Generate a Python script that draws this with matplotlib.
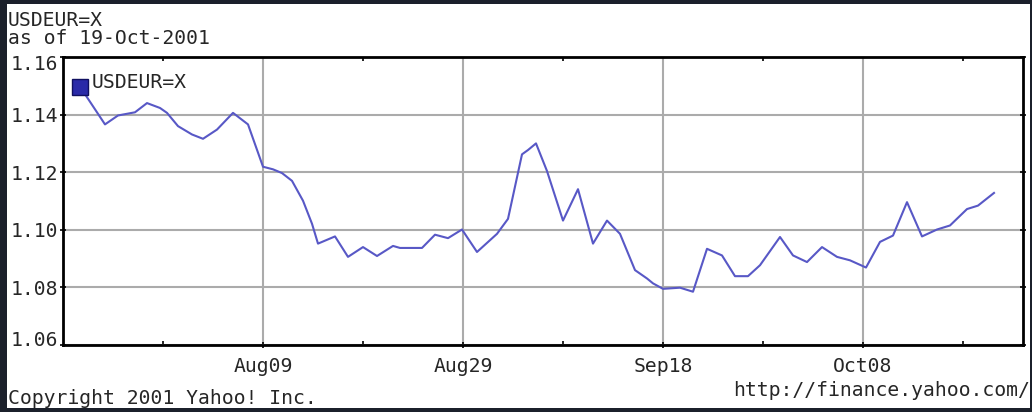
import matplotlib
matplotlib.use("Agg")
import matplotlib.pyplot as plt
from matplotlib.patches import Rectangle
from matplotlib.transforms import ScaledTranslation

# Days since 20-Jul-2001 (trading-day samples) and USD/EUR rate
days = [1.7, 4.2, 5.5, 7.2, 8.4, 9.7, 10.4, 11.5, 12.9, 14.0, 15.4, 17.0, 18.5,
        20.0, 21.0, 21.9, 22.9, 24.0, 24.9, 25.5, 27.2, 28.5, 30.0, 31.4, 33.0,
        33.7, 34.8, 35.9, 37.2, 38.5, 39.9, 41.4, 43.4, 44.5, 45.9, 46.5, 47.3,
        48.4, 50.0, 51.5, 53.0, 54.4, 55.7, 57.2, 58.4, 59.0, 60.0, 61.7, 63.0,
        64.4, 65.9, 67.2, 68.5, 69.7, 71.7, 73.0, 74.4, 75.9, 77.4, 78.7, 80.3,
        81.7, 83.0, 84.4, 85.9, 87.4, 88.7, 90.4, 91.5, 93.1]
rate = [1.1497, 1.1366, 1.1397, 1.1408, 1.1440, 1.1423, 1.1406, 1.1360, 1.1331,
        1.1316, 1.1348, 1.1406, 1.1366, 1.1219, 1.1210, 1.1197, 1.1170, 1.1101,
        1.1021, 1.0952, 1.0977, 1.0906, 1.0940, 1.0909, 1.0944, 1.0937, 1.0937,
        1.0937, 1.0983, 1.0971, 1.1001, 1.0923, 1.0986, 1.1038, 1.1262, 1.1277,
        1.1300, 1.1204, 1.1032, 1.1141, 1.0952, 1.1032, 1.0986, 1.0860, 1.0831,
        1.0814, 1.0795, 1.0799, 1.0785, 1.0934, 1.0911, 1.0839, 1.0839, 1.0877,
        1.0975, 1.0911, 1.0888, 1.0940, 1.0906, 1.0894, 1.0869, 1.0958, 1.0980,
        1.1096, 1.0977, 1.1001, 1.1015, 1.1072, 1.1084, 1.1128]

xtick_pos = [20, 40, 60, 80]
xtick_labels = ["Aug09", "Aug29", "Sep18", "Oct08"]
xminor_pos = [10, 30, 50, 70, 90]
ytick_vals = [1.06, 1.08, 1.10, 1.12, 1.14, 1.16]
ytick_labels = ["1.06", "1.08", "1.10", "1.12", "1.14", "1.16"]

W, H = 1032, 412
fig = plt.figure(figsize=(W / 100, H / 100), dpi=100)
fig.patch.set_facecolor("#1b202b")
fig.patches.append(Rectangle((7 / W, 4 / H), (1030 - 7) / W, (404) / H,
                             transform=fig.transFigure, facecolor="white",
                             edgecolor="none", zorder=-5))

mono = "DejaVu Sans Mono"
fs = 14.2
tc = "#262626"

ax = fig.add_axes([63 / W, 67 / H, 960 / W, 288 / H])
ax.set_zorder(5)
ax.set_facecolor("white")
ax.plot(days, rate, color="#5858c6", lw=1.5, zorder=3)
ax.set_xlim(0, 96)
ax.set_ylim(1.06, 1.16)

ax.set_xticks(xtick_pos)
ax.set_xticklabels(xtick_labels, fontfamily=mono, fontsize=fs, color=tc)
ax.set_xticks(xminor_pos, minor=True)
ax.set_yticks(ytick_vals)
ax.set_yticklabels(ytick_labels, fontfamily=mono, fontsize=fs, color=tc)

ax.grid(True, which="major", color="#ababab", lw=1.5, zorder=1)
ax.tick_params(axis="both", which="major", direction="inout", length=5,
               width=1.2, color="black", pad=1)
ax.tick_params(axis="x", which="major", pad=6)
ax.tick_params(axis="x", which="minor", direction="in", length=3, width=1.2,
               top=True)
ax.tick_params(axis="y", which="major", right=True)
for s in ax.spines.values():
    s.set_linewidth(2)
    s.set_color("black")

# end labels of y axis sit slightly inside the frame
ylabels = ax.get_yticklabels()
ylabels[0].set_transform(ylabels[0].get_transform() +
                         ScaledTranslation(0, 7 / 100, fig.dpi_scale_trans))
ylabels[-1].set_transform(ylabels[-1].get_transform() +
                          ScaledTranslation(0, -5 / 100, fig.dpi_scale_trans))

# legend
ax.plot([1.7], [1.1497], marker="s", ms=11, color="#2a2aa8",
        markeredgecolor="#101060", zorder=4, clip_on=False)
ax.text(2.9, 1.1497 + 0.0015, "USDEUR=X", fontfamily=mono, fontsize=fs,
        color=tc, va="center", ha="left", zorder=4)

fig.text(8 / W, 1 - 21 / H, "USDEUR=X", fontfamily=mono, fontsize=fs,
         color=tc, va="center", ha="left")
fig.text(8 / W, 1 - 38 / H, "as of 19-Oct-2001", fontfamily=mono, fontsize=fs,
         color=tc, va="center", ha="left")
fig.text(8 / W, 1 - 399 / H, "Copyright 2001 Yahoo! Inc.", fontfamily=mono,
         fontsize=fs, color=tc, va="center", ha="left")
fig.text(1030 / W, 1 - 391 / H, "http://finance.yahoo.com/", fontfamily=mono,
         fontsize=fs, color=tc, va="center", ha="right")

fig.savefig("out.png", dpi=100, facecolor=fig.get_facecolor())
